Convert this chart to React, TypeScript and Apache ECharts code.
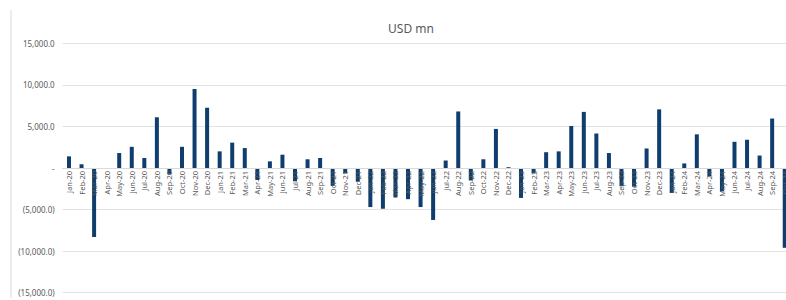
import React, { useEffect, useRef } from "react";
import * as echarts from "echarts";

const months = ["Jan", "Feb", "Mar", "Apr", "May", "Jun", "Jul", "Aug", "Sep", "Oct", "Nov", "Dec"];
const years = ["20", "21", "22", "23", "24"];
const categories: string[] = [];
years.forEach((y) => months.forEach((m) => categories.push(`${m}-${y}`)));
categories.splice(58);

const values2020 = [1400, 450, -8300, 0, 1800, 2550, 1200, 6100, -700, 2550, 9500, 7250];
const values2021 = [2000, 3050, 2400, -1450, 800, 1600, -1600, 1050, 1200, -2150, -650, -1650];
const values2022 = [-4700, -4900, -3550, -3750, -4700, -6250, 900, 6800, -1500, 1050, 4700, 100];
const values2023 = [-3600, -650, 1900, 2000, 5050, 6750, 4150, 1800, -2200, -2250, 2350, 7050];
const values2024 = [-3000, 550, 4050, -1000, -2800, 3150, 3400, 1500, 5950, -9600];
const values = [...values2020, ...values2021, ...values2022, ...values2023, ...values2024];

const title = "USD mn";

function fmt(v: number): string {
  if (v === 0) return "-";
  const s = Math.abs(v).toLocaleString("en-US", { minimumFractionDigits: 1, maximumFractionDigits: 1 });
  return v < 0 ? `(${s})` : s;
}

const GRID_TOP = 43.3;
const GRID_BOTTOM = 7.3;
const CHART_H = 300;

export default function App() {
  const ref = useRef<HTMLDivElement>(null);
  useEffect(() => {
    if (!ref.current) return;
    const chart = echarts.init(ref.current, undefined, { renderer: "svg" });
    const plotH = CHART_H - GRID_TOP - GRID_BOTTOM;
    const zeroOffset = -plotH / 2;
    chart.setOption({
      animation: false,
      backgroundColor: "#ffffff",
      title: {
        text: title,
        left: 406,
        top: 17,
        textAlign: "center",
        textStyle: { fontFamily: "Noto Sans", fontSize: 12, fontWeight: "normal", color: "#595959" },
      },
      graphic: [
        {
          type: "line",
          shape: { x1: 11, y1: 10, x2: 11, y2: 298 },
          style: { stroke: "#d9d9d9", lineWidth: 1 },
        },
      ],
      grid: {
        left: 62.7,
        right: 9,
        top: GRID_TOP,
        bottom: GRID_BOTTOM,
        containLabel: false,
        outerBoundsMode: "none",
      },
      xAxis: {
        type: "category",
        data: categories,
        z: 5,
        offset: zeroOffset,
        axisLine: { onZero: false, lineStyle: { color: "#d9d9d9" } },
        axisTick: { show: false },
        axisLabel: {
          interval: 0,
          rotate: 90,
          margin: 3,
          fontFamily: "Noto Sans",
          fontSize: 7.5,
          color: "#595959",
        },
      },
      yAxis: {
        type: "value",
        min: -15000,
        max: 15000,
        interval: 5000,
        axisLine: { show: false },
        axisTick: { show: false },
        splitLine: { lineStyle: { color: "#e3e3e3", width: 1 } },
        axisLabel: {
          margin: 8,
          fontFamily: "Noto Sans",
          fontSize: 8,
          color: "#595959",
          formatter: (v: number) => fmt(v),
        },
      },
      series: [
        {
          type: "bar",
          data: values,
          barWidth: 4,
          itemStyle: { color: "#0e3d6e", borderWidth: 0 },
        },
      ],
    });
    return () => chart.dispose();
  }, []);
  return (
    <div style={{ position: "fixed", left: 0, top: 0, width: 786, height: 300, overflow: "hidden", background: "#fff" }}>
      <div ref={ref} style={{ width: 800, height: 300 }} />
    </div>
  );
}
